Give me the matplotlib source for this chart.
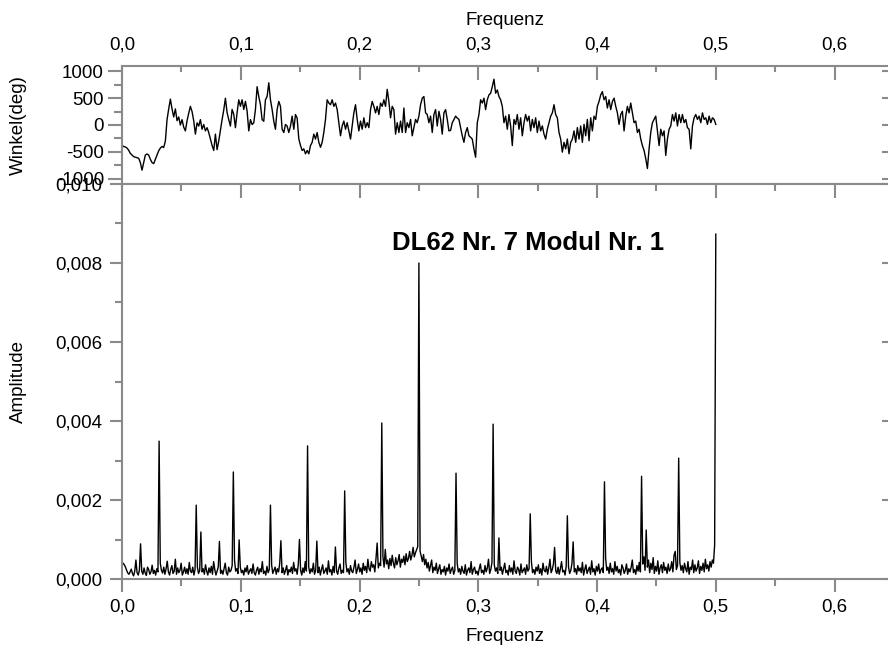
import numpy as np
import matplotlib
matplotlib.use('Agg')
import matplotlib.pyplot as plt
from matplotlib.ticker import MultipleLocator, FuncFormatter

plt.rcParams['font.family'] = ['Liberation Sans', 'DejaVu Sans']

# ---------------- data ----------------
title_text = 'DL62 Nr. 7 Modul Nr. 1'
x_label = 'Frequenz'
amp_label = 'Amplitude'
phase_label = 'Winkel(deg)'

# amplitude spectrum in units of 1e-5, 513 bins from 0 to 0.5
amp_e5 = [
    38, 40, 36, 30, 22, 15, 12, 18, 25, 14, 8, 20, 48, 16, 10, 22, 89, 20, 12, 28, 15, 9, 30, 24, 12, 18, 35, 14, 22, 10, 26, 18,
    349, 40, 22, 15, 30, 12, 26, 45, 18, 10, 24, 34, 14, 20, 50, 12, 28, 16, 22, 40, 10, 18, 30, 14, 26, 12, 42, 20, 16, 30, 10, 24,
    187, 30, 14, 22, 119, 18, 26, 12, 36, 20, 10, 28, 16, 32, 12, 44, 24, 10, 20, 30, 95, 14, 22, 12, 26, 40, 16, 10, 30, 18, 22, 34,
    271, 48, 20, 26, 14, 99, 30, 16, 22, 10, 28, 18, 34, 12, 20, 26, 14, 38, 16, 10, 22, 30, 12, 26, 18, 44, 14, 20, 10, 32, 16, 24,
    187, 36, 14, 22, 30, 12, 26, 18, 40, 97, 16, 28, 12, 22, 34, 10, 24, 18, 30, 14, 42, 20, 26, 12, 36, 100, 22, 10, 28, 16, 44, 20,
    337, 30, 14, 26, 18, 40, 12, 22, 96, 16, 30, 10, 24, 36, 14, 20, 28, 12, 46, 18, 24, 10, 32, 16, 81, 20, 12, 28, 38, 14, 22, 16,
    223, 42, 18, 26, 12, 34, 20, 16, 30, 48, 14, 24, 38, 18, 28, 12, 40, 22, 32, 16, 50, 26, 20, 44, 30, 36, 18, 52, 91, 28, 40, 34,
    395, 56, 30, 75, 38, 48, 26, 52, 34, 60, 40, 28, 54, 36, 46, 62, 30, 50, 42, 58, 36, 64, 44, 52, 70, 48, 60, 80, 56, 66, 74, 82,
    800, 70, 58, 44, 62, 36, 50, 28, 42, 20, 34, 48, 16, 30, 22, 40, 14, 26, 36, 12, 24, 18, 32, 10, 28, 20, 38, 14, 24, 30, 12, 22,
    268, 40, 18, 26, 12, 32, 20, 14, 36, 10, 22, 28, 16, 44, 12, 24, 30, 14, 20, 10, 26, 38, 16, 22, 12, 34, 18, 28, 50, 14, 24, 42,
    392, 36, 20, 28, 14, 104, 22, 30, 12, 26, 40, 16, 22, 10, 34, 18, 28, 12, 46, 20, 14, 30, 24, 10, 38, 16, 22, 28, 12, 36, 20, 26,
    165, 44, 16, 24, 12, 30, 20, 36, 14, 26, 10, 40, 22, 18, 32, 12, 28, 50, 16, 24, 38, 80, 20, 14, 30, 12, 26, 44, 18, 22, 10, 32,
    160, 30, 14, 22, 40, 94, 18, 26, 12, 34, 20, 28, 16, 42, 10, 24, 36, 14, 22, 30, 12, 46, 18, 26, 10, 32, 20, 38, 14, 24, 28, 16,
    246, 52, 22, 30, 14, 40, 18, 26, 12, 44, 20, 32, 16, 24, 10, 36, 28, 14, 22, 38, 12, 26, 18, 30, 48, 16, 24, 12, 34, 20, 42, 18,
    260, 38, 56, 22, 124, 30, 48, 16, 40, 24, 54, 14, 32, 20, 46, 12, 28, 36, 16, 42, 22, 30, 14, 38, 20, 26, 44, 18, 60, 70, 24, 34,
    306, 42, 22, 34, 16, 40, 26, 18, 44, 12, 30, 24, 48, 16, 36, 20, 28, 46, 14, 32, 22, 40, 18, 50, 26, 36, 20, 44, 30, 48, 40, 86,
    873,
]

# phase in degrees, evenly spaced from 0 to 0.5
phase_deg = [
    -380, -400, -410, -430, -470, -530, -560, -590, -600, -610, -620, -700, -842, -700, -560, -540,
    -560, -640, -700, -720, -640, -560, -480, -430, -400, -420, -300, 100, 300, 482, 300, 150,
    300, 80, 150, 0, 100, -40, -110, 80, 220, 348, 250, 80, -170, 40, -20, 100,
    -80, 10, -110, -50, -140, -260, -380, -475, -170, -460, -300, -100, 100, 280, 500, 230,
    100, -20, 290, 200, -50, 230, 470, 350, 470, 290, 440, 260, -110, 100, 10, 40,
    290, 714, 530, 380, 100, 70, 470, 530, 787, 470, 290, 70, -80, 290, 440, 350,
    -80, -140, 10, -20, -140, -20, 165, -80, 195, 130, -260, -380, -475, -445, -537, -475,
    -537, -384, -323, -170, -262, -140, -323, -415, -323, -140, 104, 470, 409, 378, 470, 348,
    409, 287, 43, -201, -18, 73, -79, 43, -110, -262, -18, 226, 378, 104, -110, 73,
    -79, 134, -49, 43, -49, 287, 439, 348, 226, 348, 195, 409, 348, 470, 348, 665,
    439, 134, 348, 287, -170, 43, -140, 73, -140, 317, -140, 43, -49, 104, -201, -49,
    104, 43, 165, 378, 500, 531, 226, 195, 43, 165, -140, 195, 287, -18, 256, 104,
    -170, 226, 287, 104, -110,
    -100, 43, 100, 165, 130, 104, -50, -201, -323, -140, -49, -201, -230, -262, -450, -600,
    43, 195, 470, 409, 500, 287, 470, 561, 592, 714, 854, 592, 653, 531, 470, 348,
    43, 165, -79, 195, -18, -384, 104, 12, 195, -79, 134, -201, 43, 195, 73, 165,
    -110, 104, -49, 134, -140, 73, -110, -18, -170, -262, -79, 43, 165, 226, 378, 195,
    134, -140, -262, -506, -323, -445, -262, -537, -323, -262, -110, -323, -49, -262, -18, -323,
    12, -201, 104, -293, 134, -110, 165, 104, 348, 439, 561, 622, 470, 531, 317, 470,
    287, 439, 500, 348, 226, 12, 195, 256, -110, 165, 348, 226, 409, 226, 43, 73,
    -140, -79, -262, -384, -475, -628, -811, -445, -140, 43, 104, 165, -110, -384, -79, -201,
    -110, -567, -262, -79, -18, 195, 73, 226, -18, 195, 43, 195, 43, 104, -49, -79,
    -445, -18, 134, 195, 104, 165, 43, 226, 104, 134, 12, 165, 43, 134, 104, 12,
]

freq_amp = np.linspace(0.0, 0.5, len(amp_e5))
amp = np.array(amp_e5, dtype=float) * 1e-5
freq_phase = np.linspace(0.0, 0.5, len(phase_deg))
phase = np.array(phase_deg, dtype=float)

# ---------------- layout ----------------
W, H = 888, 648
fig = plt.figure(figsize=(W / 100, H / 100), dpi=100)


def rect(x0, y0, x1, y1):
    return [x0 / W, 1 - y1 / H, (x1 - x0) / W, (y1 - y0) / H]


ax_top = fig.add_axes(rect(122, 66, 888, 184))
ax_bot = fig.add_axes(rect(122, 184, 888, 579))

gray = '#8a8a8a'
fs_tick = 13.5
fs_lab = 13.5
XMAX = 0.645

comma1 = FuncFormatter(lambda v, p: f'{v:.1f}'.replace('.', ','))
comma3 = FuncFormatter(lambda v, p: f'{v:.3f}'.replace('.', ','))
intfmt = FuncFormatter(lambda v, p: f'{int(round(v))}' if abs(v) > 1e-9 else '0')

# ----- bottom (amplitude) -----
ax_bot.plot(freq_amp, amp, color='black', lw=1.0)
ax_bot.set_xlim(0, XMAX)
ax_bot.set_ylim(0, 0.010)
ax_bot.xaxis.set_major_locator(MultipleLocator(0.1))
ax_bot.xaxis.set_minor_locator(MultipleLocator(0.05))
ax_bot.yaxis.set_major_locator(MultipleLocator(0.002))
ax_bot.yaxis.set_minor_locator(MultipleLocator(0.001))
ax_bot.xaxis.set_major_formatter(comma1)
ax_bot.yaxis.set_major_formatter(comma3)
ax_bot.tick_params(axis='both', which='major', direction='out', length=9, width=1.5,
                   color=gray, labelsize=fs_tick, pad=5)
ax_bot.tick_params(axis='both', which='minor', direction='out', length=5, width=1.5, color=gray)
ax_bot.tick_params(axis='x', top=False, which='both')
ax_bot.tick_params(axis='y', right=False, which='both')
for s in ['left', 'bottom', 'top']:
    ax_bot.spines[s].set_color(gray)
    ax_bot.spines[s].set_linewidth(1.5)
ax_bot.spines['right'].set_visible(False)
ax_bot.set_xlabel(x_label, fontsize=fs_lab, labelpad=9)
ax_bot.set_ylabel(amp_label, fontsize=fs_lab)
ax_bot.yaxis.set_label_coords(-0.124, 0.5)

sec_top = ax_bot.secondary_xaxis('top')
sec_top.xaxis.set_major_locator(MultipleLocator(0.1))
sec_top.xaxis.set_minor_locator(MultipleLocator(0.05))
sec_top.tick_params(axis='x', which='major', direction='in', length=10, width=1.5, color=gray,
                    labeltop=False)
sec_top.tick_params(axis='x', which='minor', direction='in', length=5, width=1.5, color=gray)
for s in sec_top.spines.values():
    s.set_visible(False)

sec_right = ax_bot.secondary_yaxis('right')
sec_right.yaxis.set_major_locator(MultipleLocator(0.002))
sec_right.yaxis.set_minor_locator(MultipleLocator(0.001))
sec_right.tick_params(axis='y', which='major', direction='in', length=4, width=1.5, color=gray,
                      labelright=False)
sec_right.tick_params(axis='y', which='minor', length=0)
for s in sec_right.spines.values():
    s.set_visible(False)

ax_bot.text(0.227, 0.0085, title_text, fontsize=18.5, fontweight='bold', ha='left', va='center')

# ----- top (phase) -----
ax_top.plot(freq_phase, phase, color='black', lw=1.0)
ax_top.set_xlim(0, XMAX)
ax_top.set_ylim(-1100, 1100)
ax_top.xaxis.set_major_locator(MultipleLocator(0.1))
ax_top.xaxis.set_minor_locator(MultipleLocator(0.05))
ax_top.yaxis.set_major_locator(MultipleLocator(500))
ax_top.yaxis.set_minor_locator(MultipleLocator(250))
ax_top.xaxis.set_major_formatter(comma1)
ax_top.yaxis.set_major_formatter(intfmt)
ax_top.xaxis.tick_top()
ax_top.xaxis.set_label_position('top')
ax_top.tick_params(axis='x', which='major', direction='in', length=10, width=1.5, color=gray,
                   labelsize=fs_tick, pad=9, top=True, bottom=False, labeltop=True, labelbottom=False)
ax_top.tick_params(axis='x', which='minor', direction='in', length=4, width=1.5, color=gray,
                   top=True, bottom=False)
ax_top.tick_params(axis='y', which='major', direction='out', length=10, width=1.5, color=gray,
                   labelsize=fs_tick, pad=3, right=False)
ax_top.tick_params(axis='y', which='minor', direction='out', length=6, width=1.5, color=gray,
                   right=False)
for s in ['left', 'top', 'bottom']:
    ax_top.spines[s].set_color(gray)
    ax_top.spines[s].set_linewidth(1.5)
ax_top.spines['right'].set_visible(False)
ax_top.set_xlabel(x_label, fontsize=fs_lab, labelpad=8)
ax_top.set_ylabel(phase_label, fontsize=fs_lab)
ax_top.yaxis.set_label_coords(-0.124, 0.5)

sec_r2 = ax_top.secondary_yaxis('right')
sec_r2.yaxis.set_major_locator(MultipleLocator(500))
sec_r2.tick_params(axis='y', which='major', direction='in', length=4, width=1.5, color=gray,
                   labelright=False)
sec_r2.tick_params(axis='y', which='minor', length=0)
for s in sec_r2.spines.values():
    s.set_visible(False)

fig.savefig('out.png', dpi=100)
